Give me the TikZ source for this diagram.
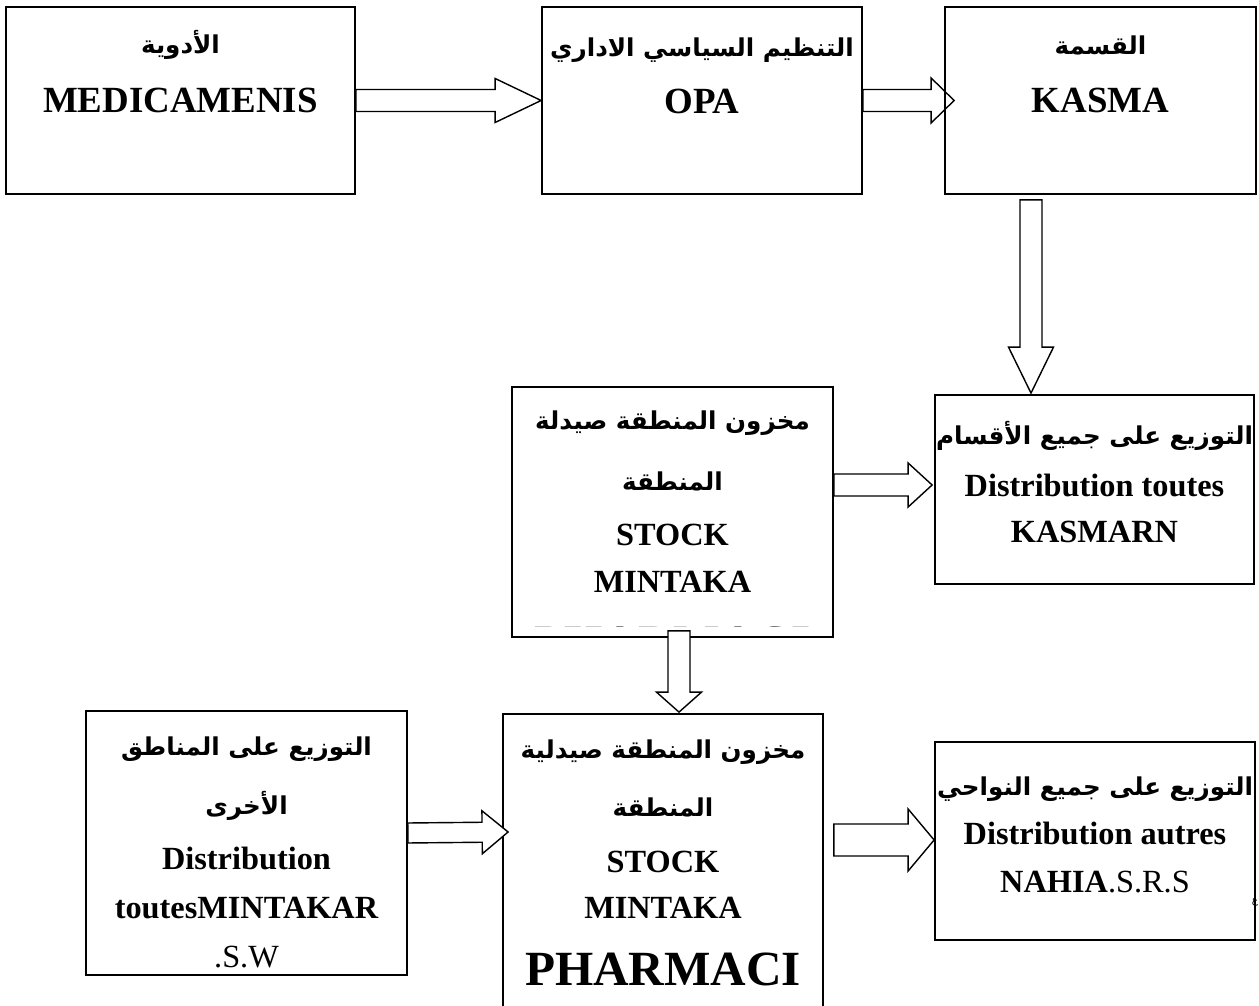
\documentclass[tikz,border=0pt]{standalone}
\usepackage{fontspec}
\setmainfont{Liberation Serif}
\newfontfamily\arabicfont[Script=Arabic]{DejaVu Sans}
\TeXXeTstate=1
\usepackage{tikz}
\usetikzlibrary{calc}

\tikzset{
  box/.style 2 args={draw, line width=1pt, fill=none, inner sep=0pt,
    minimum width=#1*0.02cm, minimum height=#2*0.02cm},
  blockarrow/.style={draw, line width=0.8pt, fill=white, line join=miter},
  top/.style={inner sep=0pt, font=\fontsize{21}{24}\selectfont\bfseries},
  lat/.style={inner sep=0pt, font=\fontsize{18.4}{21}\selectfont\bfseries},
  big/.style={inner sep=0pt, font=\fontsize{28}{30}\selectfont\bfseries},
  ar/.style={inner sep=0pt, font=\arabicfont\fontsize{14}{16}\selectfont\bfseries},
}

% hollow block arrow: name, start, tip, half shaft, half head, head length
\newcommand\hollowarrow[7][]{%
  \coordinate (#2-s) at (#3);
  \coordinate (#2-e) at (#4);
  \coordinate (#2-h) at ($(#2-e)!#7!(#2-s)$);
  \draw[blockarrow,#1] ($(#2-s)!#5!90:(#2-e)$) -- ($(#2-h)!#5!90:(#2-e)$)
    -- ($(#2-h)!#6!90:(#2-e)$) -- (#2-e) -- ($(#2-h)!#6!-90:(#2-e)$)
    -- ($(#2-h)!#5!-90:(#2-e)$) -- ($(#2-s)!#5!-90:(#2-e)$) -- cycle;
}

\begin{document}
\begin{tikzpicture}[x=0.02cm, y=-0.02cm]
  \useasboundingbox (0,0) rectangle (1259,1006);

  % boxes
  \node[box={349}{187}] (med) at (180.5,100.5) {};
  \node[box={320}{187}] (opa) at (702,100.5) {};
  \node[box={311}{187}] (kasma) at (1100.5,100.5) {};
  \node[box={319}{189}] (kasmarn) at (1094.5,489.5) {};
  \node[box={321}{250}] (stockA) at (672.5,512) {};
  \node[box={321}{264}] (other) at (246.5,843) {};
  \node[box={320}{306}] (stockB) at (663,867) {};
  \node[box={320}{198}] (nahia) at (1095,841) {};

  % top row
  \node[ar] (med-ar) at (180.5,45) {\beginR الأدوية\endR};
  \node[top] (med-lat) at (180.5,100) {MEDICAMENIS};
  \node[ar] (opa-ar) at (702,50) {\beginR التنظيم السياسي الاداري\endR};
  \node[top] (opa-lat) at (702,101) {OPA};
  \node[ar] (kasma-ar) at (1100.5,45) {\beginR القسمة\endR};
  \node[top] (kasma-lat) at (1100.5,100) {KASMA};

  % middle row
  \node[ar] (kasmarn-ar) at (1094.5,436) {\beginR التوزيع على جميع الأقسام\endR};
  \node[lat] (kasmarn-l1) at (1094.5,485) {Distribution toutes};
  \node[lat] (kasmarn-l2) at (1094.5,532) {KASMARN};

  \node[ar] (stockA-ar1) at (672.5,423) {\beginR مخزون المنطقة صيدلة\endR};
  \node[ar] (stockA-ar2) at (672.5,481) {\beginR المنطقة\endR};
  \node[lat] (stockA-l1) at (672.5,535) {STOCK};
  \node[lat] (stockA-l2) at (672.5,582) {MINTAKA};
  \begin{scope}
    \clip (512,387) rectangle (833,627);
    \node[big] (stockA-l3) at (672.5,643) {PHARMACI};
  \end{scope}

  % bottom row
  \node[ar] (other-ar1) at (246.5,749) {\beginR التوزيع على المناطق\endR};
  \node[ar] (other-ar2) at (246.5,806) {\beginR الأخرى\endR};
  \node[lat] (other-l1) at (246.5,858) {Distribution};
  \node[lat] (other-l2) at (246.5,908) {toutesMINTAKAR};
  \node[lat] (other-l3) at (246.5,957) {\mdseries .S.W};

  \node[ar] (stockB-ar1) at (663,752) {\beginR مخزون المنطقة صيدلية\endR};
  \node[ar] (stockB-ar2) at (663,807) {\beginR المنطقة\endR};
  \node[lat] (stockB-l1) at (663,862) {STOCK};
  \node[lat] (stockB-l2) at (663,908) {MINTAKA};
  \node[big] (stockB-l3) at (663,969) {PHARMACI};

  \node[ar] (nahia-ar) at (1095,789) {\beginR التوزيع على جميع النواحي\endR};
  \node[lat] (nahia-l1) at (1095,833) {Distribution autres};
  \node[lat] (nahia-l2) at (1095,882) {NAHIA{\mdseries .S.R.S}};
  \node[ar, anchor=east, font=\arabicfont\fontsize{6}{7}\selectfont] (stray) at (1258.5,902) {\beginR ع\endR};

  % arrows
  \hollowarrow{a1}{med.east}{opa.west}{0.22cm}{0.44cm}{0.92cm}
  \hollowarrow[fill=none]{a2}{opa.east}{$(kasma.west)+(10,0)$}{0.22cm}{0.45cm}{0.46cm}
  \hollowarrow{a3}{$(kasma.south)+(-69.5,5)$}{$(kasmarn.north)+(-63.5,-1)$}{0.22cm}{0.45cm}{0.92cm}
  \hollowarrow{a4}{$(stockA.east)+(0,-27)$}{$(kasmarn.west)+(-2,-4.5)$}{0.22cm}{0.44cm}{0.48cm}
  \hollowarrow{a5}{$(stockA.south)+(6.5,-7)$}{$(stockB.north)+(16,-1)$}{0.22cm}{0.45cm}{0.40cm}
  \hollowarrow{a6}{$(other.east)+(0,-10)$}{$(stockB.west)+(6,-35)$}{0.2cm}{0.43cm}{0.52cm}
  \hollowarrow{a7}{$(stockB.east)+(10,-27)$}{$(nahia.west)+(0,-1)$}{0.32cm}{0.62cm}{0.52cm}
\end{tikzpicture}
\end{document}
